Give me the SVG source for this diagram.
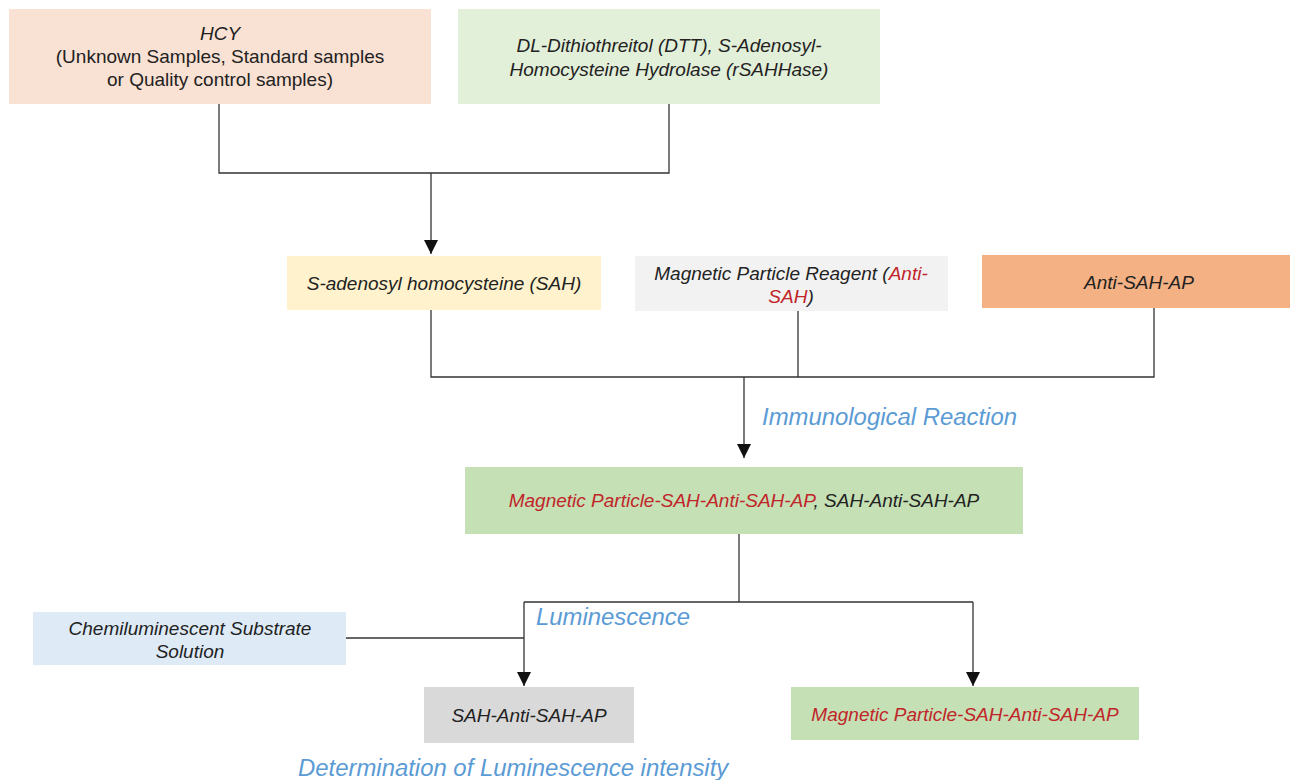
<svg xmlns="http://www.w3.org/2000/svg" width="1290" height="780" viewBox="0 0 1290 780">
<defs>
<style>
.t{font-family:"Liberation Sans",Arial,sans-serif;font-style:italic;font-size:19px;fill:#222;text-anchor:middle}
.u{font-family:"Liberation Sans",Arial,sans-serif;font-size:19px;fill:#222;text-anchor:middle}
.r{fill:#c0252a}
.lab{font-family:"Liberation Sans",Arial,sans-serif;font-style:italic;font-size:23.9px;fill:#5b9bd5}
.ln{fill:none;stroke:#333;stroke-width:1.3}
</style>
<marker id="ah" viewBox="0 0 10 10" refX="10" refY="5" markerWidth="14" markerHeight="14" markerUnits="userSpaceOnUse" orient="auto">
<path d="M0,0 L10,5 L0,10 z" fill="#111"/>
</marker>
</defs>
<rect width="1290" height="780" fill="#fff"/>
<g id="hcy">
<rect x="9" y="9" width="422" height="95" fill="#f9e1d3"/>
<text class="t" x="220" y="40">HCY</text>
<text class="u" x="220" y="63">(Unknown Samples, Standard samples</text>
<text class="u" x="220" y="86">or Quality control samples)</text>
</g>
<g id="dtt">
<rect x="458" y="9" width="422" height="95" fill="#e2efd9"/>
<text class="t" x="669" y="52">DL-Dithiothreitol (DTT), S-Adenosyl-</text>
<text class="t" x="669" y="76">Homocysteine Hydrolase (rSAHHase)</text>
</g>
<g id="sah">
<rect x="287" y="256" width="314" height="54" fill="#fff2cc"/>
<text class="t" x="444" y="290">S-adenosyl homocysteine (SAH)</text>
</g>
<g id="mpr">
<rect x="635" y="256" width="313" height="55" fill="#f2f2f2"/>
<text class="t" x="791" y="280">Magnetic Particle Reagent (<tspan class="r">Anti-</tspan></text>
<text class="t" x="791" y="303"><tspan class="r">SAH</tspan>)</text>
</g>
<g id="antiap">
<rect x="982" y="255" width="308" height="53" fill="#f4b183"/>
<text class="t" x="1139" y="289">Anti-SAH-AP</text>
</g>
<g id="complex">
<rect x="465" y="467" width="558" height="67" fill="#c5e0b4"/>
<text class="t" x="744" y="507"><tspan class="r">Magnetic Particle-SAH-Anti-SAH-AP</tspan>, SAH-Anti-SAH-AP</text>
</g>
<g id="chemi">
<rect x="33" y="612" width="313" height="53" fill="#deebf7"/>
<text class="t" x="190" y="635">Chemiluminescent Substrate</text>
<text class="t" x="190" y="658">Solution</text>
</g>
<g id="sahap">
<rect x="424" y="687" width="210" height="56" fill="#d9d9d9"/>
<text class="t" x="529" y="722">SAH-Anti-SAH-AP</text>
</g>
<g id="mpap">
<rect x="791" y="687" width="348" height="53" fill="#c5e0b4"/>
<text class="t r" x="965" y="721">Magnetic Particle-SAH-Anti-SAH-AP</text>
</g>
<g id="labels">
<text class="lab" x="762" y="425">Immunological Reaction</text>
<text class="lab" x="536" y="625">Luminescence</text>
<text class="lab" x="298" y="776">Determination of Luminescence intensity</text>
</g>
<g id="connectors">
<path class="ln" d="M219,104 V173 H669 V104"/>
<path class="ln" d="M431,173 V254" marker-end="url(#ah)"/>
<path class="ln" d="M431,310 V377 H1154 V308 M798,311 V377"/>
<path class="ln" d="M744,377 V458" marker-end="url(#ah)"/>
<path class="ln" d="M739,534 V602 H524 M739,602 H973"/>
<path class="ln" d="M524,602 V686" marker-end="url(#ah)"/>
<path class="ln" d="M973,602 V686" marker-end="url(#ah)"/>
<path class="ln" d="M346,638 H524"/>
</g>
</svg>
